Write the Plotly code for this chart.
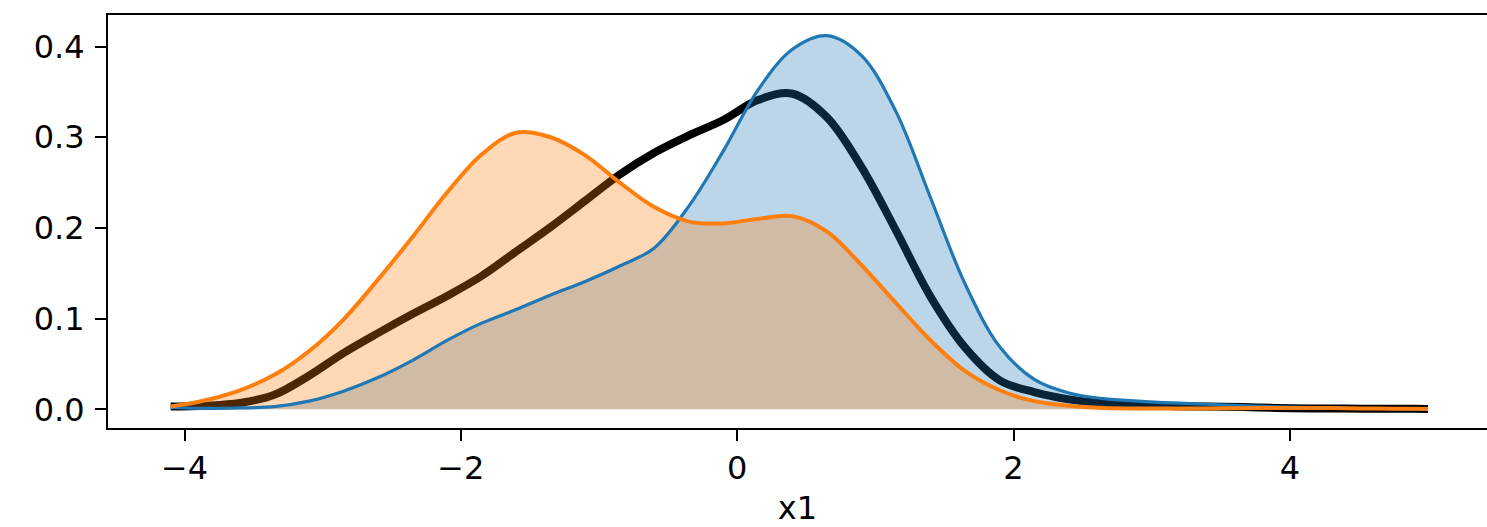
import plotly.graph_objects as go

# Shared evaluation grid for the kernel density estimates of x1
x_grid = [-4.10, -3.85, -3.60, -3.35, -3.10, -2.85, -2.60, -2.35, -2.10, -1.85,
          -1.60, -1.35, -1.10, -0.85, -0.60, -0.35, -0.10, 0.15, 0.40, 0.65,
          0.90, 1.15, 1.40, 1.65, 1.90, 2.15, 2.40, 2.65, 2.90, 3.15,
          3.40, 3.65, 3.90, 4.15, 4.40, 4.65, 4.90, 5.00]

# overall density (black)
y_all = [0.003, 0.004, 0.007, 0.016, 0.037, 0.062, 0.084, 0.105, 0.125, 0.147,
         0.174, 0.201, 0.230, 0.259, 0.283, 0.302, 0.319, 0.341, 0.348, 0.322,
         0.267, 0.197, 0.124, 0.068, 0.032, 0.019, 0.011, 0.0066, 0.0045, 0.0035,
         0.003, 0.0025, 0.0015, 0.001, 0.0008, 0.0006, 0.0005, 0.0004]

# group densities (blue, orange)
y_blue = [0.002, 0.001, 0.0015, 0.003, 0.009, 0.020, 0.035, 0.054, 0.076, 0.095,
          0.110, 0.126, 0.141, 0.158, 0.178, 0.224, 0.285, 0.352, 0.397, 0.412,
          0.390, 0.328, 0.233, 0.138, 0.069, 0.033, 0.018, 0.0118, 0.009, 0.007,
          0.0056, 0.004, 0.0028, 0.0018, 0.0011, 0.0008, 0.0005, 0.0004]
y_orange = [0.003, 0.010, 0.021, 0.038, 0.064, 0.099, 0.143, 0.190, 0.239, 0.281,
            0.305, 0.300, 0.280, 0.250, 0.223, 0.207, 0.205, 0.210, 0.213, 0.196,
            0.159, 0.117, 0.076, 0.042, 0.021, 0.009, 0.004, 0.0015, 0.001, 0.001,
            0.001, 0.0012, 0.0015, 0.0015, 0.0012, 0.0008, 0.0005, 0.0004]

x_ticks = [-4, -2, 0, 2, 4]
x_tick_text = ["\u22124", "\u22122", "0", "2", "4"]
y_ticks = [0.0, 0.1, 0.2, 0.3, 0.4]
y_tick_text = ["0.0", "0.1", "0.2", "0.3", "0.4"]

BLUE = "#1f77b4"
ORANGE = "#ff7f0e"
spline = dict(shape="spline", smoothing=1.0)

fig = go.Figure()
# overall density sits beneath the group fills
fig.add_trace(go.Scatter(x=x_grid, y=y_all, mode="lines",
                         line=dict(color="black", width=8, **spline)))
# group fills
fig.add_trace(go.Scatter(x=x_grid, y=y_blue, mode="lines", fill="tozeroy",
                         fillcolor="rgba(31,119,180,0.3)",
                         line=dict(color="rgba(0,0,0,0)", width=0, **spline)))
fig.add_trace(go.Scatter(x=x_grid, y=y_orange, mode="lines", fill="tozeroy",
                         fillcolor="rgba(255,127,14,0.3)",
                         line=dict(color="rgba(0,0,0,0)", width=0, **spline)))
# group outlines
fig.add_trace(go.Scatter(x=x_grid, y=y_blue, mode="lines",
                         line=dict(color=BLUE, width=3.2, **spline)))
fig.add_trace(go.Scatter(x=x_grid, y=y_orange, mode="lines",
                         line=dict(color=ORANGE, width=4, **spline)))

font = dict(family="DejaVu Sans", size=32, color="black")
fig.update_layout(
    width=1487, height=527,
    margin=dict(l=108, r=0, t=15, b=99),
    paper_bgcolor="white", plot_bgcolor="white",
    showlegend=False,
    font=font,
    xaxis=dict(range=[-4.554, 5.427], tickvals=x_ticks, ticktext=x_tick_text,
               showgrid=False, zeroline=False, showline=True, linecolor="black",
               linewidth=2, mirror=True, ticks="outside", ticklen=11, tickwidth=2,
               tickcolor="black", tickfont=font, automargin=False,
               title=dict(text="x1", font=font, standoff=27)),
    yaxis=dict(range=[-0.0206, 0.4348], tickvals=y_ticks, ticktext=y_tick_text,
               showgrid=False, zeroline=False, showline=True, linecolor="black",
               linewidth=2, mirror=False, ticks="outside", ticklen=11, tickwidth=2,
               tickcolor="black", tickfont=font, ticklabelstandoff=4,
               automargin=False),
)

fig.write_html("out.html")
